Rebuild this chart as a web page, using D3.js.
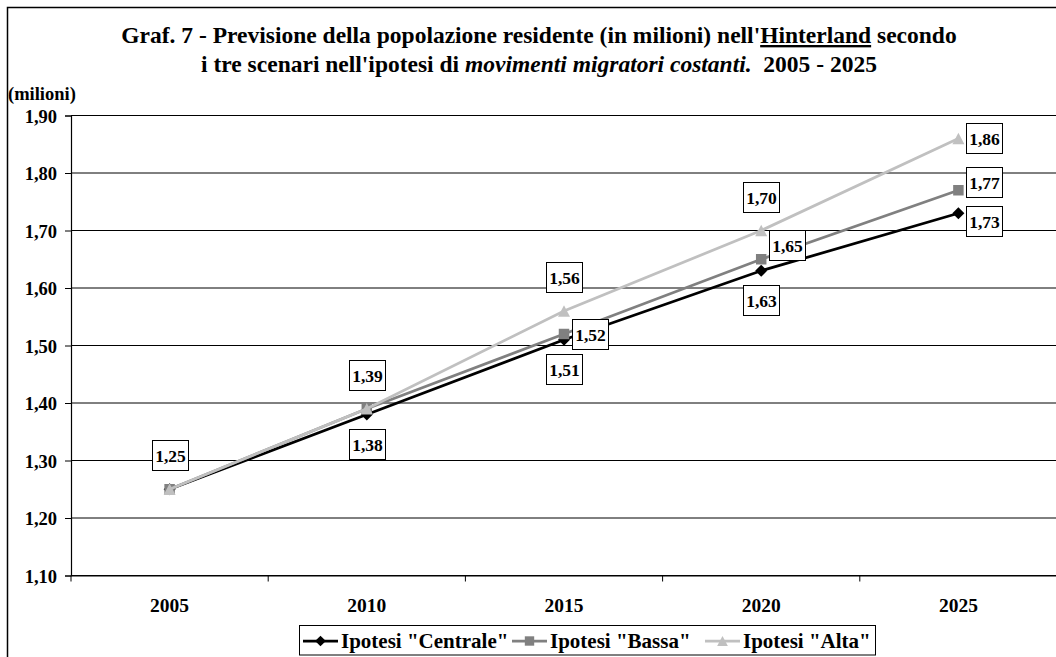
<!DOCTYPE html>
<html>
<head>
<meta charset="utf-8">
<script src="https://cdn.jsdelivr.net/npm/d3@7"></script>
<style>
  body { margin: 0; background: #fff; }
  svg { display: block; }
  text { font-family: "Liberation Serif", "Times New Roman", serif; font-weight: bold; fill: #000; }
</style>
</head>
<body>
<svg id="chart" width="1056" height="657"></svg>
<script>
// ---- data (population in millions) ----
const years = ["2005", "2010", "2015", "2020", "2025"];
const centrale = [1.25, 1.38, 1.51, 1.63, 1.73];
const bassa    = [1.25, 1.39, 1.52, 1.65, 1.77];
const alta     = [1.25, 1.39, 1.56, 1.70, 1.86];
const yTicks   = [1.10, 1.20, 1.30, 1.40, 1.50, 1.60, 1.70, 1.80, 1.90];
const seriesNames = ['Ipotesi "Centrale"', 'Ipotesi "Bassa"', 'Ipotesi "Alta"'];

// ---- marker shapes (size = width squared) ----
const diamond = { draw(ctx, size) { const r = Math.sqrt(size) / 2;
  ctx.moveTo(0, -r); ctx.lineTo(r, 0); ctx.lineTo(0, r); ctx.lineTo(-r, 0); ctx.closePath(); } };
const square = { draw(ctx, size) { const r = Math.sqrt(size) / 2;
  ctx.moveTo(-r, -r); ctx.lineTo(r, -r); ctx.lineTo(r, r); ctx.lineTo(-r, r); ctx.closePath(); } };
const triangle = { draw(ctx, size) { const w = Math.sqrt(size), h = w * 0.95;
  ctx.moveTo(0, -h / 2); ctx.lineTo(w / 2, h / 2); ctx.lineTo(-w / 2, h / 2); ctx.closePath(); } };

// ---- styling & label layout ----
const series = [
  { name: seriesNames[0], values: centrale, color: "#000000", marker: diamond, msize: 12,
    labels: [null, "below", "below", "below", "right"], nudge: [0, 0, 0, 0, 8] },
  { name: seriesNames[1], values: bassa, color: "#808080", marker: square, msize: 10.5,
    labels: [null, null, "right", "right", "right"], nudge: [0, 0, 0, -14, -8] },
  { name: seriesNames[2], values: alta, color: "#c0c0c0", marker: triangle, msize: 12,
    labels: ["above", "above", "above", "above", "right"], nudge: [0, 0, 0, 0, 0] }
];

const fmt = v => d3.format(".2f")(v).replace(".", ",");

const svg = d3.select("#chart");
const W = 1056, H = 657;
const plot = { left: 71, right: 1057, top: 115.5, bottom: 575.5 };

// outer frame
svg.append("rect").attr("x", 7.5).attr("y", 7.5).attr("width", W + 20).attr("height", H + 20)
  .attr("fill", "#fff").attr("stroke", "#000").attr("stroke-width", 1.5);

// title
const title = svg.append("text").attr("text-anchor", "middle").attr("font-size", 23.5)
  .style("white-space", "pre");
const t1 = title.append("tspan").attr("x", 539).attr("y", 43);
t1.append("tspan").text("Graf. 7 - Previsione della popolazione residente (in milioni) nell'");
t1.append("tspan").attr("text-decoration", "underline").text("Hinterland");
t1.append("tspan").text(" secondo");
const t2 = title.append("tspan").attr("x", 539).attr("y", 71.5);
t2.append("tspan").text("i tre scenari nell'ipotesi di ");
t2.append("tspan").attr("font-style", "italic").text("movimenti migratori costanti.");
t2.append("tspan").text("  2005 - 2025");

// unit label
svg.append("text").attr("x", 8).attr("y", 100).attr("font-size", 18.5).text("(milioni)");

// scales
const x = d3.scaleBand().domain(years).range([plot.left, plot.right]);
const y = d3.scaleLinear().domain([1.10, 1.90]).range([plot.bottom, plot.top]);

// gridlines
svg.append("g").selectAll("line").data(yTicks).join("line")
  .attr("x1", plot.left).attr("x2", W)
  .attr("y1", d => y(d)).attr("y2", d => y(d))
  .attr("stroke", "#000").attr("stroke-width", 1);

// y axis
const yAxis = svg.append("g").attr("transform", `translate(${plot.left},0)`)
  .call(d3.axisLeft(y).tickValues(yTicks).tickSize(6).tickPadding(8).tickFormat(d => fmt(d)));
yAxis.select(".domain").attr("stroke", "#000").attr("stroke-width", 1.2);
yAxis.selectAll(".tick line").attr("stroke", "#000");
yAxis.selectAll("text").attr("font-size", 18.5).attr("font-family", "Liberation Serif")
  .attr("font-weight", "bold").attr("dy", "0.36em");

// x axis
const xAxis = svg.append("g").attr("transform", `translate(0,${plot.bottom})`)
  .call(d3.axisBottom(x).tickSize(0).tickPadding(23));
xAxis.select(".domain").attr("stroke", "#000").attr("stroke-width", 1.2);
xAxis.selectAll("text").attr("font-size", 19.5).attr("font-family", "Liberation Serif")
  .attr("font-weight", "bold");
// category separators
svg.append("g").selectAll("line").data(years).join("line")
  .attr("x1", d => x(d)).attr("x2", d => x(d))
  .attr("y1", plot.bottom).attr("y2", plot.bottom + 6)
  .attr("stroke", "#000");

const cx = d => x(d) + x.bandwidth() / 2;

// lines and markers
const line = d3.line().x((d, i) => cx(years[i])).y(d => y(d));
series.forEach(s => {
  svg.append("path").datum(s.values).attr("d", line)
    .attr("fill", "none").attr("stroke", s.color).attr("stroke-width", 2.75);
  svg.append("g").selectAll("path").data(s.values).join("path")
    .attr("transform", (d, i) => `translate(${cx(years[i])},${y(d)})`)
    .attr("d", d3.symbol().type(s.marker).size(s.msize * s.msize))
    .attr("fill", s.color).attr("stroke", "none");
});

// data labels
const boxW = 36, boxH = 30;
const lbl = svg.append("g");
series.forEach(s => {
  s.values.forEach((v, i) => {
    const pos = s.labels[i];
    if (!pos) return;
    const px = cx(years[i]), py = y(v);
    let bx, by;
    if (pos === "above") { bx = px - boxW / 2; by = py - 34 - boxH / 2; }
    else if (pos === "below") { bx = px - boxW / 2; by = py + 29 - boxH / 2; }
    else { bx = px + 8; by = py - boxH / 2; }
    by += s.nudge[i];
    lbl.append("rect").attr("x", Math.round(bx) + 0.5).attr("y", Math.round(by) + 0.5)
      .attr("width", boxW).attr("height", boxH)
      .attr("fill", "#fff").attr("stroke", "#000").attr("stroke-width", 1);
    lbl.append("text").attr("x", Math.round(bx) + 0.5 + boxW / 2).attr("y", Math.round(by) + 21.5)
      .attr("text-anchor", "middle").attr("font-size", 17.5).text(fmt(v));
  });
});

// legend
const lg = svg.append("g");
lg.append("rect").attr("x", 299.5).attr("y", 625.5).attr("width", 576).attr("height", 29.5)
  .attr("fill", "#fff").attr("stroke", "#000").attr("stroke-width", 1);
const legendX = [303, 512, 705];
series.forEach((s, k) => {
  const lx = legendX[k];
  lg.append("line").attr("x1", lx).attr("x2", lx + 35).attr("y1", 641).attr("y2", 641)
    .attr("stroke", s.color).attr("stroke-width", 2.75);
  lg.append("path").attr("transform", `translate(${lx + 17.5},641)`)
    .attr("d", d3.symbol().type(s.marker).size(s.msize * s.msize * 0.8))
    .attr("fill", s.color);
  lg.append("text").attr("x", lx + 38).attr("y", 648).attr("font-size", 21).text(s.name);
});
</script>
</body>
</html>
